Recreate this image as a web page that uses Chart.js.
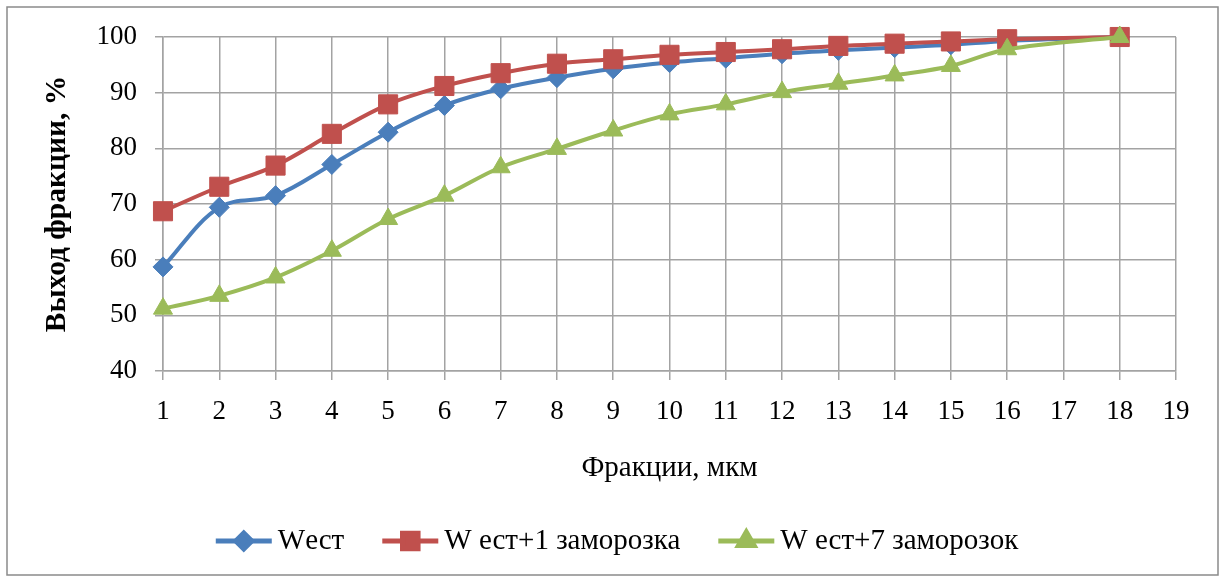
<!DOCTYPE html>
<html>
<head>
<meta charset="utf-8">
<script src="https://cdn.jsdelivr.net/npm/chart.js@4/dist/chart.umd.min.js"></script>
<style>
    html, body { margin: 0; padding: 0; background: #ffffff; }
    #wrap { position: relative; width: 1224px; height: 578px; }
</style>
</head>
<body>
<div id="wrap"><canvas id="fractionChart" width="1224" height="578"></canvas></div>
<script>
// ======================================
// Data
// ======================================
const fractions = [1, 2, 3, 4, 5, 6, 7, 8, 9, 10, 11, 12, 13, 14, 15, 16, 18];

const wEst = [58.7, 69.4, 71.5, 77.1, 82.9, 87.7, 90.7, 92.7, 94.3, 95.4, 96.2, 97.0, 97.6, 98.1, 98.6, 99.3, 100];
const wEst1 = [68.7, 73.1, 76.9, 82.6, 87.9, 91.2, 93.5, 95.2, 96.0, 96.8, 97.3, 97.8, 98.4, 98.8, 99.2, 99.6, 100];
const wEst7 = [51.2, 53.5, 56.8, 61.6, 67.3, 71.5, 76.6, 79.9, 83.2, 86.1, 87.9, 90.1, 91.6, 93.1, 94.8, 97.8, 100];

const seriesLabels = ['Wест', 'W ест+1 заморозка', 'W ест+7 заморозок'];

const xTitle = 'Фракции, мкм';
const yTitle = 'Выход фракции, %';

const FONT = '"Liberation Serif", "Times New Roman", serif';
const GRID = '#a3a3a3';
const LEGEND_FONT = 29;

function toPoints(values) {
    return values.map((v, i) => ({ x: fractions[i], y: v }));
}

// ======================================
// Plugins: outer frame + Excel-like legend markers
// ======================================
const framePlugin = {
    id: 'frame',
    beforeDraw(chart) {
        const ctx = chart.ctx;
        ctx.save();
        ctx.fillStyle = '#ffffff';
        ctx.fillRect(0, 0, chart.width, chart.height);
        ctx.strokeStyle = '#8a8a8a';
        ctx.lineWidth = 1.5;
        ctx.strokeRect(7, 7, 1211, 568);
        ctx.restore();
    }
};

const LEGEND_GAP = 28;
const LEGEND_LINE = 56;

const legendMarkerPlugin = {
    id: 'legendMarkers',
    afterDraw(chart) {
        const legend = chart.legend;
        if (!legend || !legend.legendHitBoxes) return;
        const ctx = chart.ctx;
        legend.legendItems.forEach((item, i) => {
            const box = legend.legendHitBoxes[i];
            const ds = chart.data.datasets[item.datasetIndex];
            const x0 = box.left + LEGEND_GAP;
            const y = box.top + box.height / 2;
            ctx.save();
            ctx.strokeStyle = ds.borderColor;
            ctx.lineWidth = 5;
            ctx.beginPath();
            ctx.moveTo(x0, y);
            ctx.lineTo(x0 + LEGEND_LINE, y);
            ctx.stroke();
            ctx.fillStyle = ds.borderColor;
            ctx.strokeStyle = ds.borderColor;
            Chart.helpers.drawPoint(ctx, {
                pointStyle: ds.pointStyle,
                radius: ds.legendRadius,
                rotation: 0,
                borderWidth: 1
            }, x0 + LEGEND_LINE / 2, y);
            ctx.restore();
        });
    }
};

// ======================================
// Chart
// ======================================
function createFractionChart() {
    const ctx = document.getElementById('fractionChart');
    if (!ctx) return;

    new Chart(ctx, {
        type: 'line',
        data: {
            datasets: [
                {
                    label: seriesLabels[0],
                    data: toPoints(wEst),
                    borderColor: '#4a7ebb',
                    backgroundColor: '#4a7ebb',
                    pointStyle: 'rectRot',
                    pointRadius: 10,
                    legendRadius: 8,
                    order: 2
                },
                {
                    label: seriesLabels[1],
                    data: toPoints(wEst1),
                    borderColor: '#c0504d',
                    backgroundColor: '#c0504d',
                    pointStyle: 'rect',
                    pointRadius: 13.5,
                    legendRadius: 11,
                    order: 1
                },
                {
                    label: seriesLabels[2],
                    data: toPoints(wEst7),
                    borderColor: '#9bbb59',
                    backgroundColor: '#9bbb59',
                    pointStyle: 'triangle',
                    pointRadius: 11,
                    legendRadius: 9,
                    order: 0
                }
            ].map(ds => Object.assign(ds, {
                borderWidth: 4,
                tension: 0.35,
                pointBorderWidth: 1,
                pointBorderColor: ds.borderColor,
                pointBackgroundColor: ds.borderColor,
                pointHoverRadius: ds.pointRadius,
                clip: false,
                fill: false
            }))
        },
        options: {
            responsive: false,
            animation: false,
            events: [],
            layout: {
                padding: { left: 30, right: 48, top: 37, bottom: 12.5 }
            },
            plugins: {
                tooltip: { enabled: false },
                title: { display: false },
                legend: {
                    display: true,
                    position: 'bottom',
                    labels: {
                        font: { family: FONT, size: LEGEND_FONT },
                        color: '#000000',
                        boxWidth: LEGEND_GAP + LEGEND_LINE + 6 - LEGEND_FONT / 2,
                        boxHeight: 4,
                        padding: 10,
                        sort: (a, b) => a.datasetIndex - b.datasetIndex,
                        generateLabels(chart) {
                            const items = Chart.defaults.plugins.legend.labels.generateLabels(chart);
                            return items.map(it => Object.assign(it, {
                                fillStyle: 'rgba(0,0,0,0)',
                                strokeStyle: 'rgba(0,0,0,0)',
                                lineWidth: 0
                            }));
                        }
                    }
                }
            },
            scales: {
                x: {
                    type: 'linear',
                    min: 1,
                    max: 19,
                    afterFit(scale) { scale.height = 145.5; },
                    ticks: {
                        stepSize: 1,
                        padding: 16,
                        color: '#000000',
                        font: { family: FONT, size: 27 }
                    },
                    grid: {
                        color: GRID,
                        lineWidth: 1.5,
                        tickLength: 9,
                        drawTicks: true
                    },
                    border: { color: GRID, width: 1.5 },
                    title: {
                        display: true,
                        text: xTitle,
                        color: '#000000',
                        font: { family: FONT, size: 29 },
                        padding: { top: 0, bottom: 31 }
                    }
                },
                y: {
                    min: 40,
                    max: 100,
                    afterFit(scale) { scale.width = 133; },
                    ticks: {
                        stepSize: 10,
                        padding: 18,
                        color: '#000000',
                        font: { family: FONT, size: 27 }
                    },
                    grid: {
                        color: GRID,
                        lineWidth: 1.5,
                        tickLength: 8
                    },
                    border: { color: GRID, width: 1.5 },
                    title: {
                        display: true,
                        text: yTitle,
                        color: '#000000',
                        font: { family: FONT, size: 29.5, weight: 'bold' },
                        padding: { top: 10, bottom: 0 }
                    }
                }
            }
        },
        plugins: [framePlugin, legendMarkerPlugin]
    });
}

createFractionChart();
</script>
</body>
</html>
